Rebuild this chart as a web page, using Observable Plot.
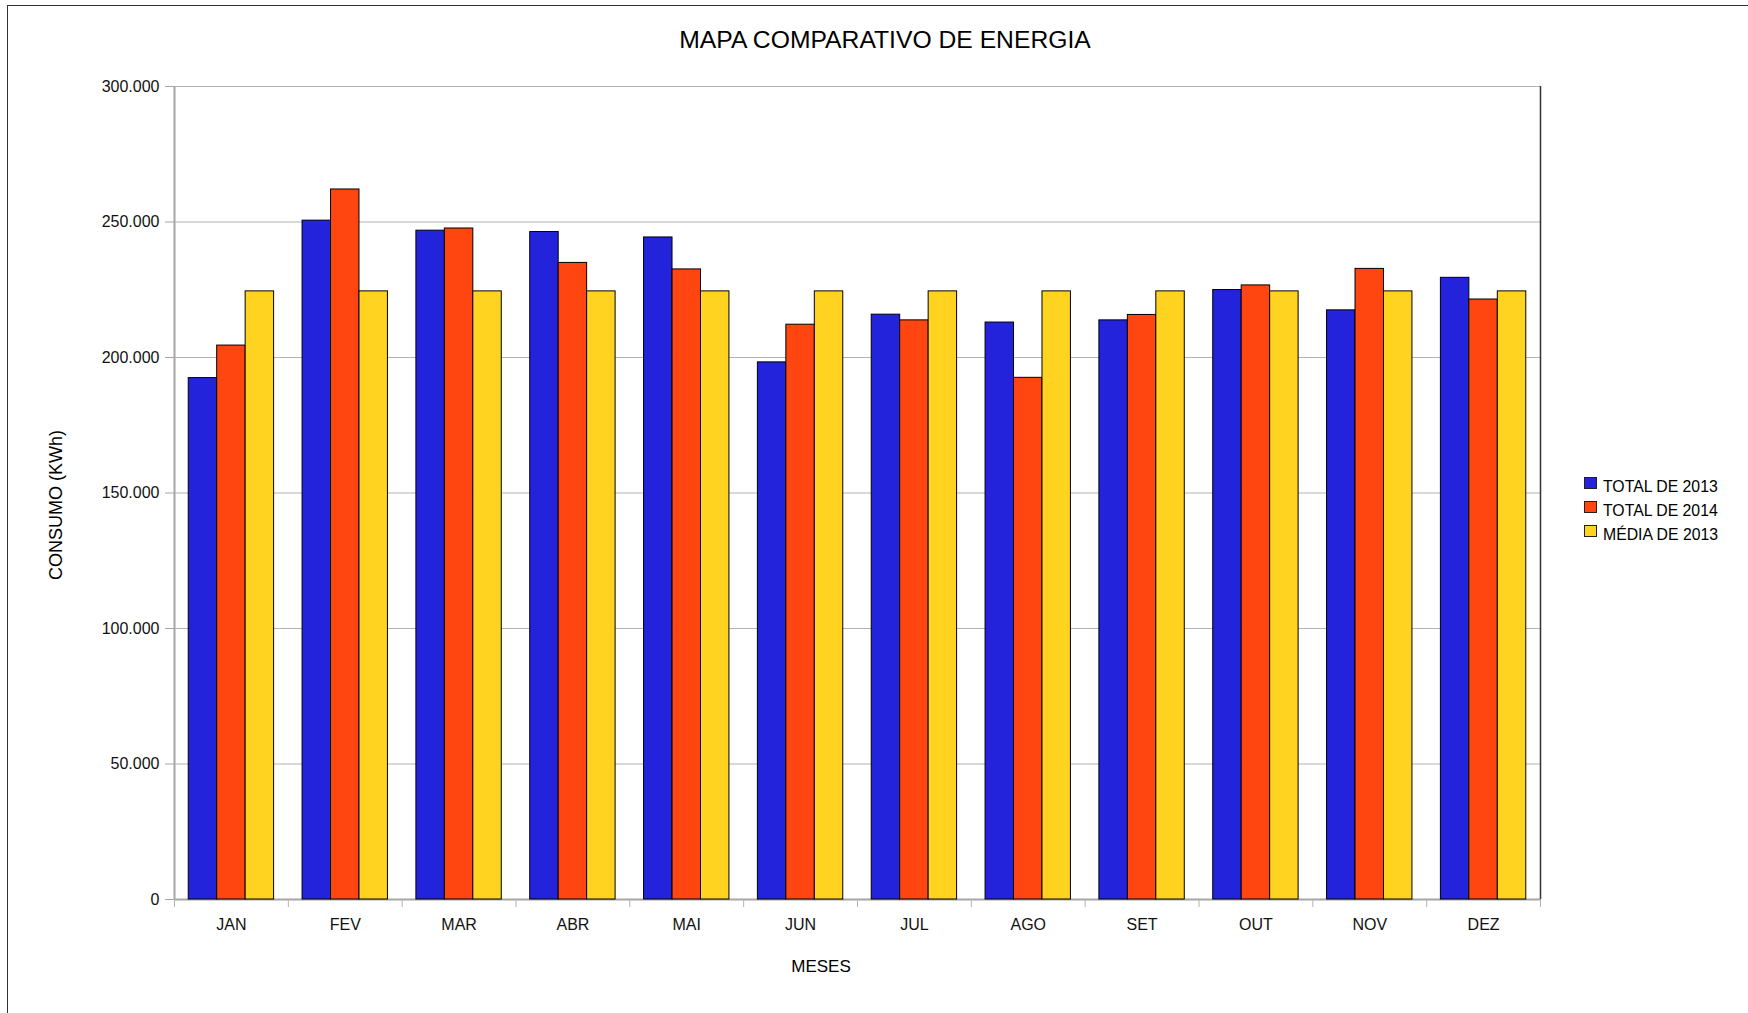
<!DOCTYPE html>
<html>
<head>
<meta charset="utf-8">
<script src="https://cdn.jsdelivr.net/npm/d3@7"></script>
<script src="https://cdn.jsdelivr.net/npm/@observablehq/plot@0.6"></script>
<style>
  body { margin: 0; background: #fff; font-family: "Liberation Sans", Arial, sans-serif; }
  #wrap { position: relative; width: 1748px; height: 1013px; overflow: hidden; background: #fff; }
  #wrap svg { position: absolute; left: 0; top: 0; }
  .abs { position: absolute; white-space: nowrap; line-height: 1; color: #000; font-family: "Liberation Sans", Arial, sans-serif; }
  #border { position: absolute; left: 7px; top: 5px; width: 3000px; height: 3000px;
            border-left: 1.5px solid #333; border-top: 1.5px solid #333; }
  .sw { position: absolute; width: 13px; height: 12px; box-sizing: border-box; border: 1px solid #222; }
</style>
</head>
<body>
<div id="wrap"></div>
<script>
// ---- data ----
const months = ["JAN", "FEV", "MAR", "ABR", "MAI", "JUN", "JUL", "AGO", "SET", "OUT", "NOV", "DEZ"];
const total2013 = [192400, 250500, 246800, 246300, 244300, 198200, 215800, 212900, 213700, 224900, 217400, 229400];
const total2014 = [204400, 262000, 247600, 234900, 232500, 212100, 213700, 192500, 215700, 226600, 232700, 221400];
const media2013 = [224400, 224400, 224400, 224400, 224400, 224400, 224400, 224400, 224400, 224400, 224400, 224400];
const seriesNames = ["TOTAL DE 2013", "TOTAL DE 2014", "MÉDIA DE 2013"];
const seriesColors = ["#2323dc", "#ff4510", "#ffd320"];
const yTicks = [0, 50000, 100000, 150000, 200000, 250000, 300000];
const chartTitle = "MAPA COMPARATIVO DE ENERGIA";
const yTitle = "CONSUMO (KWh)";
const xTitle = "MESES";

const seriesValues = [total2013, total2014, media2013];
const rows = months.flatMap((m, i) =>
  seriesValues.map((arr, k) => ({ month: m, i, k, series: seriesNames[k], value: arr[i] }))
);

const fmt = d3.formatLocale({ decimal: ",", thousands: ".", grouping: [3], currency: ["R$", ""] }).format(",d");

// group layout: each month occupies one unit; 3 bars of 1/4 unit, centred
const barW = 0.25, groupPad = (1 - seriesNames.length * barW) / 2;

const chart = Plot.plot({
  width: 1748,
  height: 1013,
  marginLeft: 174,
  marginRight: 208,
  marginTop: 86,
  marginBottom: 114,
  style: { fontFamily: "'Liberation Sans', Arial, sans-serif", fontSize: "15px", color: "#000", background: "transparent" },
  x: { type: "linear", domain: [0, months.length], axis: null },
  y: { domain: [0, 300000], axis: null },
  color: { domain: seriesNames, range: seriesColors },
  marks: [
    Plot.gridY(yTicks, { stroke: "#b3b3b3", strokeOpacity: 1, strokeWidth: 1 }),
    Plot.ruleY([0], { stroke: "#a6a6a6", strokeWidth: 2 }),
    Plot.ruleX([0], { stroke: "#a6a6a6", strokeWidth: 2 }),
    Plot.ruleX([months.length], { stroke: "#333", strokeWidth: 1.5 }),
    Plot.rect(rows, {
      x1: d => d.i + groupPad + barW * d.k,
      x2: d => d.i + groupPad + barW * (d.k + 1),
      y1: 0,
      y2: "value",
      fill: "series",
      stroke: "#000",
      strokeWidth: 1
    }),
    Plot.axisY(yTicks, { tickSize: 9, tickPadding: 6, tickFormat: fmt, stroke: "#a6a6a6", fill: "#111", fontSize: 16, label: null }),
    Plot.axisX(d3.range(months.length + 1), { tickSize: 8, tickFormat: () => "", stroke: "#b3b3b3", label: null }),
    Plot.axisX(months.map((m, i) => i + 0.5), { tickSize: 0, tickPadding: 19, tickFormat: v => months[Math.floor(v)], fill: "#111", fontSize: 16, label: null })
  ]
});

const wrap = document.getElementById("wrap");
wrap.appendChild(chart);

const border = document.createElement("div");
border.id = "border";
wrap.appendChild(border);

function addText(txt, css) {
  const d = document.createElement("div");
  d.className = "abs";
  d.textContent = txt;
  Object.assign(d.style, css);
  wrap.appendChild(d);
  return d;
}

// title
addText(chartTitle, { left: "885px", top: "28px", fontSize: "24.7px", transform: "translateX(-50%)" });
// y axis title
addText(yTitle, { left: "56px", top: "505px", fontSize: "18px", transform: "translate(-50%, -50%) rotate(-90deg)" });
// x axis title
addText(xTitle, { left: "821px", top: "958px", fontSize: "17px", transform: "translateX(-50%)" });

// legend
seriesNames.forEach((name, r) => {
  const top = 477 + 24 * r;
  const sw = document.createElement("div");
  sw.className = "sw";
  sw.style.left = "1584px";
  sw.style.top = top + "px";
  sw.style.background = seriesColors[r];
  wrap.appendChild(sw);
  addText(name, { left: "1603px", top: (top + 1.5) + "px", fontSize: "15.8px" });
});
</script>
</body>
</html>
